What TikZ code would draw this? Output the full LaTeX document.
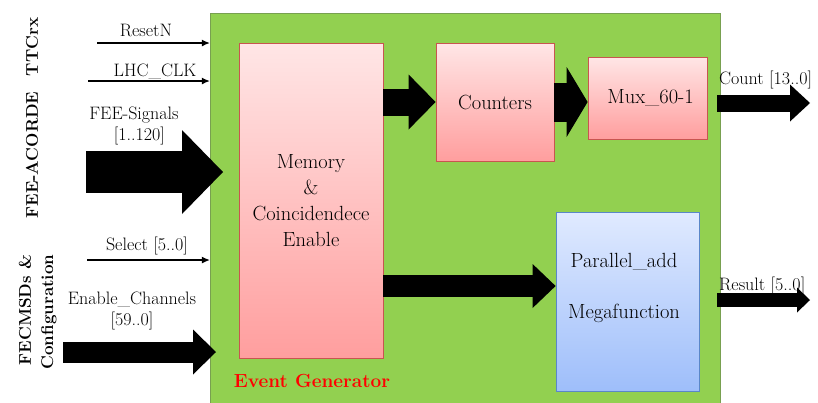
\documentclass[tikz,border=0pt]{standalone}
\usepackage{fontspec}
\usepackage{tikz}
\usetikzlibrary{arrows.meta,positioning,calc}
\definecolor{egreen}{RGB}{146,208,80}
\definecolor{egedge}{RGB}{120,160,80}
\definecolor{pinktop}{RGB}{255,230,230}
\definecolor{pinkbot}{RGB}{255,158,158}
\definecolor{pinkedge}{RGB}{200,85,80}
\definecolor{bluetop}{RGB}{224,234,255}
\definecolor{bluebot}{RGB}{158,190,250}
\definecolor{blueedge}{RGB}{90,135,200}
\tikzset{
  boxtxt/.style={inner sep=0pt,align=center,font=\fontsize{20.5}{26}\selectfont},
  pinkblk/.style={boxtxt,draw=pinkedge,thick,top color=pinktop,bottom color=pinkbot},
  blueblk/.style={draw=blueedge,thick,top color=bluetop,bottom color=bluebot,inner sep=0pt},
  lab/.style={font=\fontsize{18}{21}\selectfont,align=center,inner sep=0pt},
  side/.style={font=\fontsize{17}{20}\selectfont\bfseries,rotate=90,inner sep=0pt},
  sig/.style={line width=1.1pt,-{Latex[length=8pt,width=7pt]}},
  fat/.style n args={3}{line width=#1pt,-{Triangle[width=#2pt,length=#3pt,line width=0pt]}}
}
\begin{document}
\begin{tikzpicture}[x=1pt,y=-1pt]
\useasboundingbox (0,0) rectangle (818,402);
% event generator frame and blocks
\node[draw=egedge,fill=egreen,minimum width=510pt,minimum height=391pt] (eg) at (465,208.5) {};
\node[pinkblk,minimum width=144pt,minimum height=315pt] (mem) at (311,200.5) {Memory\\\&\\Coincidendece\\Enable};
\node[pinkblk,minimum width=118pt,minimum height=118pt] (cnt) at (495,102) {Counters};
\node[pinkblk,minimum width=119pt,minimum height=82pt] (mux) at (647.5,98) {\ Mux\_60-1};
\node[blueblk,minimum width=143pt,minimum height=179pt] (par) at (627.5,301.5) {};
\node[boxtxt] (partxt) at (624,288) {Parallel\_add\\[25pt]Megafunction};
\node[font=\fontsize{19}{22}\selectfont\bfseries,text=red,inner sep=0pt] (egtxt) at (312,381) {Event Generator};
% side titles
\node[side] (ttc) at (32,47) {TTCrx};
\node[side] (fee) at (32,155) {FEE-ACORDE};
\node[side] (fec) at (25,310) {FECMSDs \&};
\node[side] (cfg) at (49,312) {Configuration};
% inputs
\coordinate (rst) at (97,43);
\coordinate (clk) at (88,81);
\coordinate (sel) at (87,260);
\coordinate (feein) at (86,172);
\coordinate (feetip) at (223,172);
\coordinate (enin) at (63,352);
\coordinate (entip) at (216,352);
\draw[sig] (rst) -- (rst -| eg.west);
\draw[sig] (clk) -- (clk -| eg.west);
\draw[sig] (sel) -- (sel -| eg.west);
\draw[fat={42}{84}{41}] (feein) -- (feetip);
\draw[fat={21}{45}{23}] (enin) -- (entip);
\node[lab] (rstl) at (146,30) {ResetN};
\node[lab] (clkl) at (155,71) {LHC\_CLK};
\node[lab] (feel) at (134,126) {FEE-Signals\\{}\ \ [1..120]};
\node[lab] (sell) at (147,246) {Select [5..0]};
\node[lab] (enl) at (132,311) {Enable\_Channels\\{}[59..0]};
% internal paths
\draw[fat={27}{55}{27}] (mem.east |- cnt.west) -- (cnt.west);
\draw[fat={39}{70}{21}] (cnt.east) -- (cnt.east -| mux.west);
\draw[fat={22}{44}{23}] (mem.east |- 0,286) -- (par.west |- 0,286);
% outputs
\coordinate (cout) at (810,103);
\coordinate (rout) at (810,300);
\draw[fat={17}{37}{20},shorten <=10pt] (mux.east |- cout) -- (cout);
\draw[fat={14}{25}{13},shorten <=18pt] (par.east |- rout) -- (rout);
\node[lab,anchor=west] (cntl) at (719,80) {Count [13..0]};
\node[lab,anchor=west] (resl) at (719,286) {Result [5..0]};
\end{tikzpicture}
\end{document}
